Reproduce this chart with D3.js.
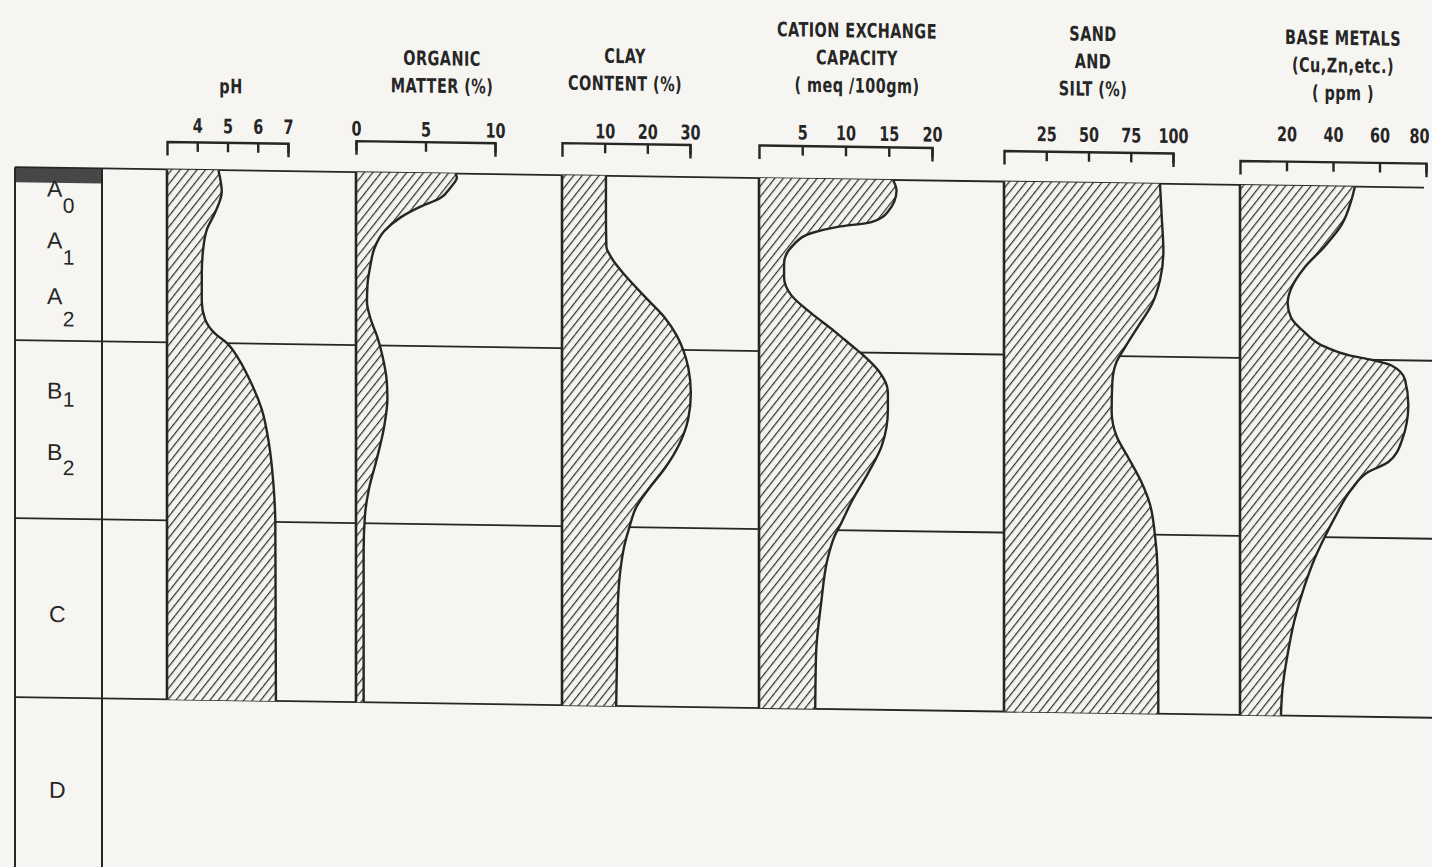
<!DOCTYPE html>
<html><head><meta charset="utf-8">
<script src="https://cdn.jsdelivr.net/npm/d3@7"></script>
<style>html,body{margin:0;padding:0;background:#f6f5f1;}svg{display:block;}</style>
</head><body>
<svg id="chart" width="1432" height="867"></svg>
<script>
// ---------- DATA ----------
const horizonBounds = [0, 33, 66, 100];           // depth of horizon boundaries (relative units)
const horizonNames = ["A", "A", "A", "B", "B", "C", "D"];
const horizonSubs  = ["0", "1", "2", "1", "2", "", ""];
const horizonLabelDepth = [5.5, 15.35, 26, 43.7, 55.1, 85.6, 119];

const phTicks    = [4, 5, 6, 7];
const omTicks    = [0, 5, 10];
const clayTicks  = [10, 20, 30];
const cecTicks   = [5, 10, 15, 20];
const sandTicks  = [25, 50, 75, 100];
const metalTicks = [20, 40, 60, 80];

const phDepth = [0, 4.1, 8.1, 11.5, 14.9, 19.7, 25.1, 28.5, 31.2, 33, 35.8, 39.8, 45.1, 51.8, 58.4, 66, 81.3, 100];
const phValue = [4.70, 4.81, 4.59, 4.31, 4.20, 4.15, 4.15, 4.26, 4.59, 4.99, 5.36, 5.74, 6.13, 6.38, 6.51, 6.58, 6.59, 6.60];

const omDepth = [0, 0.7, 2.7, 4.7, 6.4, 8.5, 11.2, 14.6, 18, 21.3, 24.7, 28.1, 31.5, 34.9, 39.5, 42.8, 48.1, 54.7, 59.4, 64.7, 71.2, 100];
const omValue = [7.14, 7.26, 6.79, 6.07, 4.64, 3.21, 2.02, 1.31, 1.02, 0.83, 0.79, 1.07, 1.55, 1.90, 2.21, 2.26, 2.02, 1.43, 0.95, 0.64, 0.55, 0.55];

const clayDepth = [0, 7, 13.5, 15.5, 19.5, 23.6, 26.9, 30.3, 33, 36.3, 41, 45.7, 50.3, 55, 59, 62.3, 66, 69.6, 74.1, 80.6, 90.3, 100];
const clayValue = [10.3, 10.3, 10.4, 11.5, 15.4, 20.2, 24.1, 26.9, 28.4, 29.6, 30.2, 29.6, 27.6, 24.1, 20.2, 17.4, 15.8, 14.6, 13.7, 13.1, 12.9, 12.7];

const cecDepth = [0, 2.0, 6.1, 8.1, 9.1, 10.4, 12.5, 16.2, 18.9, 22.2, 25.6, 29, 31.7, 33.7, 36.3, 40.3, 43.6, 50.2, 55.4, 60.7, 64.7, 67.3, 71.7, 79.7, 89.5, 100];
const cecValue = [15.5, 15.9, 14.9, 13.0, 9.1, 6.0, 4.07, 2.9, 2.9, 3.7, 6.0, 8.7, 10.7, 12.2, 13.8, 14.9, 14.9, 14.2, 12.6, 10.7, 9.5, 8.7, 7.9, 7.2, 6.6, 6.5];

const sandDepth = [0, 6.1, 12.9, 18.4, 23.1, 27.2, 31.3, 34, 37.9, 43.2, 47.9, 51.8, 56.4, 60.4, 66, 72.7, 82.2, 100];
const sandValue = [92.3, 93.3, 94.3, 92.3, 87.4, 79.5, 71.6, 66.7, 64.1, 63.7, 66.7, 73.6, 81.5, 86.4, 89.3, 90.9, 91.3, 91.3];

const metalDepth = [0, 2.6, 7.4, 11.5, 15.6, 19.7, 22.4, 25.1, 27.9, 30.6, 32.3, 33, 34, 36.6, 41.3, 47.9, 51.9, 53.8, 57.1, 62.4, 66, 70.2, 75.4, 81.9, 88.3, 94.8, 100];
const metalValue = [49.4, 47.9, 43.6, 36.4, 27.7, 21.9, 20.5, 21.9, 27.7, 36.4, 47.9, 56.6, 65.2, 71.0, 72.4, 69.6, 63.8, 55.1, 47.9, 40.7, 36.4, 32.0, 27.7, 23.4, 20.5, 18.3, 17.6];

// ---------- LAYOUT ----------
const panels = [
  {title: ["pH"], domain: [3, 7], range: [167, 288], ticks: phTicks, depth: phDepth, value: phValue, bracketY: 139, pad: 9, titleX: 231, titleY: 90},
  {title: ["ORGANIC", "MATTER (%)"], domain: [0, 10], range: [356, 495], ticks: omTicks, depth: omDepth, value: omValue, bracketY: 135.5, pad: 5, titleX: 442, titleY: 59},
  {title: ["CLAY", "CONTENT (%)"], domain: [0, 30], range: [562, 690], ticks: clayTicks, depth: clayDepth, value: clayValue, bracketY: 134.5, pad: 5, titleX: 625, titleY: 54},
  {title: ["CATION EXCHANGE", "CAPACITY", "( meq /100gm)"], domain: [0, 20], range: [759, 932], ticks: cecTicks, depth: cecDepth, value: cecValue, bracketY: 134, pad: 6, titleX: 857, titleY: 25},
  {title: ["SAND", "AND", "SILT (%)"], domain: [0, 100], range: [1004, 1173], ticks: sandTicks, depth: sandDepth, value: sandValue, bracketY: 136, pad: 10, titleX: 1093, titleY: 25},
  {title: ["BASE METALS", "(Cu,Zn,etc.)", "( ppm )"], domain: [0, 80], range: [1240, 1426], ticks: metalTicks, depth: metalDepth, value: metalValue, bracketY: 142.5, pad: 20, titleX: 1343, titleY: 25.5, lastShift: -7}
];
const subDrop = [16, 16, 22, 8, 15, 0, 0];

const INK = "#262626";
const cond = "'DejaVu Sans Condensed','DejaVu Sans',sans-serif";
const SX = 0.8;   // horizontal squeeze for the lettering

const svg = d3.select("#chart");
svg.append("rect").attr("width", 1432).attr("height", 867).attr("fill", "#f6f5f1");

const defs = svg.append("defs");
const pat = defs.append("pattern").attr("id", "hatch").attr("patternUnits", "userSpaceOnUse")
  .attr("width", 6.6).attr("height", 6.6).attr("patternTransform", "rotate(38)");
pat.append("rect").attr("width", 6.6).attr("height", 6.6).attr("fill", "#f4f3ef");
pat.append("line").attr("x1", 0.6).attr("y1", 0).attr("x2", 0.6).attr("y2", 6.6)
  .attr("stroke", "#2e2e2e").attr("stroke-width", 1.2);

const g = svg.append("g").attr("transform", "skewY(0.83)");

const y = d3.scaleLinear().domain(horizonBounds).range([167, 340, 518, 697]);

// horizon column
g.append("rect").attr("x", 15).attr("y", y(0)).attr("width", 87).attr("height", 15).attr("fill", "#474747");
[15, 102].forEach(x => g.append("line").attr("x1", x).attr("x2", x).attr("y1", y(0)).attr("y2", 900)
  .attr("stroke", INK).attr("stroke-width", 2));
horizonBounds.forEach((d, i) => g.append("line").attr("x1", 15).attr("x2", i === 0 ? 1424 : 1440)
  .attr("y1", y(d)).attr("y2", y(d)).attr("stroke", INK).attr("stroke-width", 1.8));

horizonNames.forEach((n, i) => {
  const t = g.append("text").attr("x", n === "C" || n === "D" ? 49 : 47).attr("y", y(horizonLabelDepth[i]))
    .attr("font-family", "'Liberation Sans',Arial,sans-serif").attr("font-size", 23).attr("fill", INK).text(n);
  if (horizonSubs[i]) t.append("tspan").attr("dx", 0.5).attr("dy", subDrop[i]).attr("font-size", 21).text(horizonSubs[i]);
});

panels.forEach(p => {
  const x = d3.scaleLinear().domain(p.domain).range(p.range);
  const data = p.depth.map((d, i) => ({d, v: p.value[i]}));
  const x0 = x(p.domain[0]);
  const area = d3.area().curve(d3.curveMonotoneY).y(d => y(d.d)).x0(x0).x1(d => x(d.v));
  const line = d3.line().curve(d3.curveMonotoneY).x(d => x(d.v)).y(d => y(d.d));
  g.append("path").datum(data).attr("d", area).attr("fill", "url(#hatch)");
  g.append("path").datum(data).attr("d", line).attr("fill", "none").attr("stroke", INK).attr("stroke-width", 2.4);
  g.append("line").attr("x1", x0).attr("x2", x0).attr("y1", y(0)).attr("y2", y(100))
    .attr("stroke", INK).attr("stroke-width", 2.6);

  const ax = g.append("g").attr("transform", `translate(0,${p.bracketY})`)
    .call(d3.axisTop(x).tickValues(p.ticks).tickSizeInner(-10).tickSizeOuter(-14).tickPadding(p.pad).tickFormat(d3.format("d")));
  ax.select(".domain").attr("stroke", INK).attr("stroke-width", 2.4).attr("fill", "none");
  ax.selectAll(".tick line").attr("stroke", INK).attr("stroke-width", 2.4);
  const last = p.ticks[p.ticks.length - 1];
  ax.selectAll(".tick text").attr("fill", INK).attr("font-family", cond).attr("font-size", 20)
    .attr("font-weight", "bold")
    .attr("transform", d => `translate(${d === last && p.lastShift ? p.lastShift : 0},0) scale(${SX},1)`);

  p.title.forEach((s, i) => {
    g.append("g").attr("transform", `translate(${p.titleX},${p.titleY + i * 27.5}) scale(${SX},1)`)
      .append("text").attr("text-anchor", "middle").attr("font-family", cond).attr("font-size", 20)
      .attr("font-weight", "bold").attr("fill", INK).attr("letter-spacing", 0.6).text(s);
  });
});
</script>
</body></html>
